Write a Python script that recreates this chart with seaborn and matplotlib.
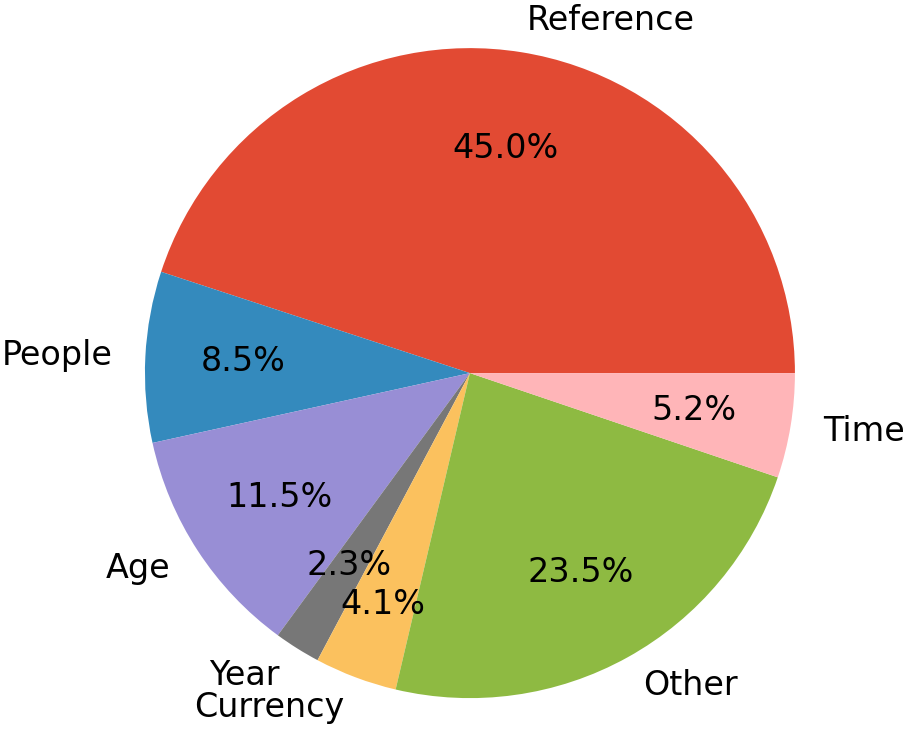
import matplotlib
matplotlib.use("Agg")
import matplotlib.pyplot as plt
import seaborn as sns

labels = ['Reference', 'People', 'Age', 'Year', 'Currency', 'Other', 'Time']
shares = [45.0, 8.5, 11.5, 2.3, 4.1, 23.5, 5.2]

# ggplot-style colour cycle
colors = sns.color_palette(['#E24A33', '#348ABD', '#988ED5', '#777777',
                            '#FBC15E', '#8EBA42', '#FFB5B8'])

fig = plt.figure(figsize=(9.09, 7.29), dpi=100)
ax = fig.add_axes([0, 0, 1, 1])
wedges, texts, autotexts = ax.pie(shares, labels=labels, colors=colors,
                                  autopct='%1.1f%%', pctdistance=0.7,
                                  textprops={'fontsize': 24})

# push the small "Currency" percentage a bit outward so it clears "Year"'s
i = labels.index('Currency')
x, y = autotexts[i].get_position()
autotexts[i].set_position((x * 0.76 / 0.7, y * 0.76 / 0.7))

ax.set_xlim(-1.446, 1.351)
ax.set_ylim(-1.095, 1.148)
ax.set_aspect('equal')
ax.axis('off')

fig.savefig('out.png', dpi=100, facecolor='white')
